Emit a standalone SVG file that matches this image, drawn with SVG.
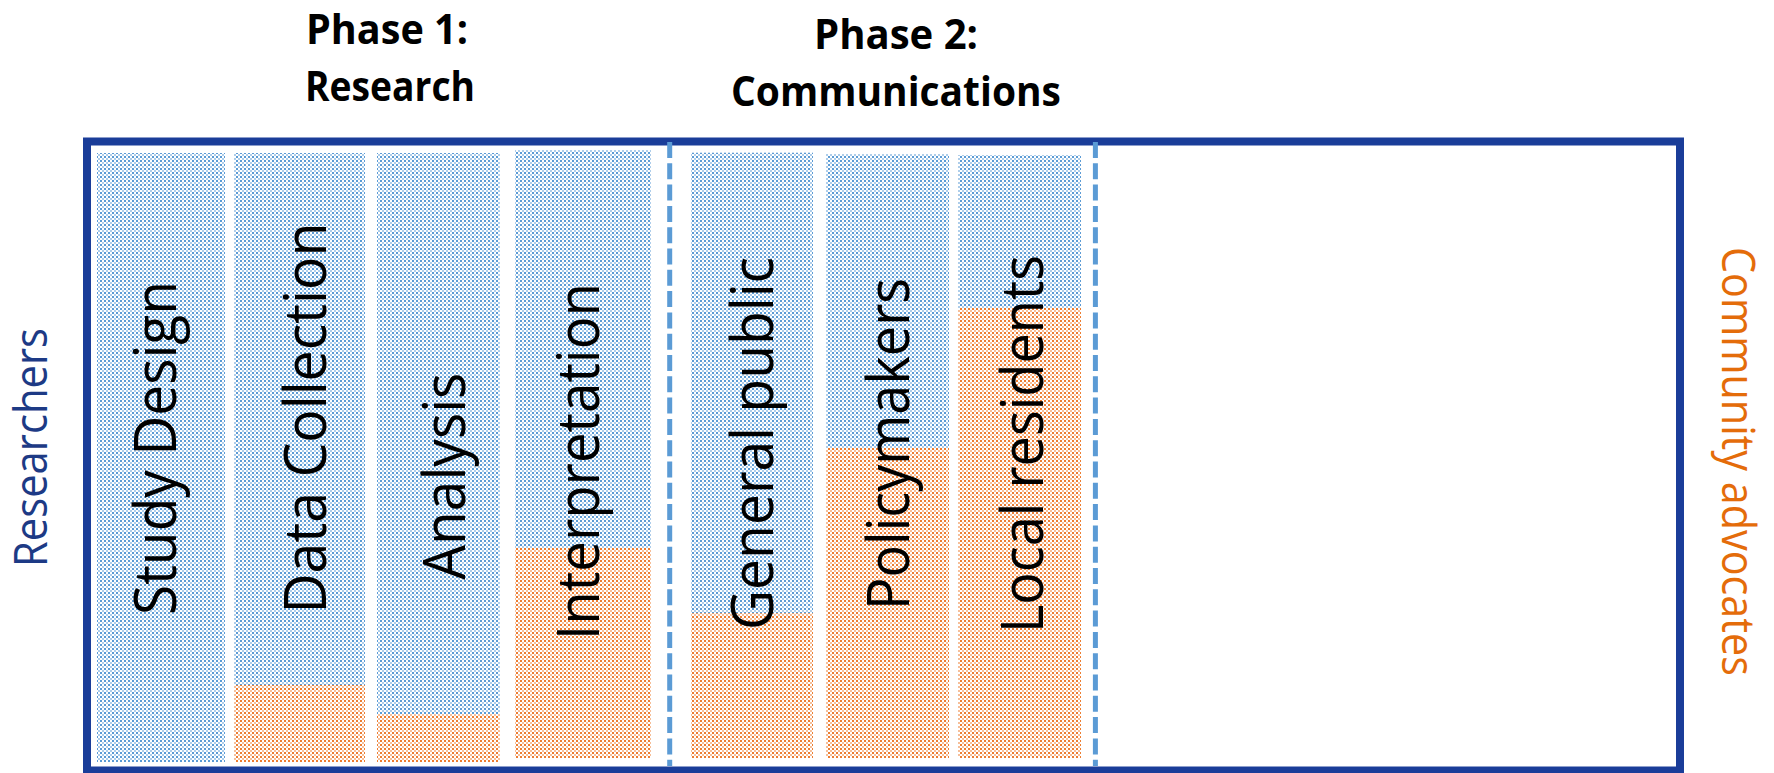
<svg xmlns="http://www.w3.org/2000/svg" width="1774" height="773" viewBox="0 0 1774 773">
<defs>
<pattern id="pBlue" width="4" height="4" patternUnits="userSpaceOnUse">
<rect width="4" height="4" fill="#ffffff"/>
<rect x="0" y="0" width="2" height="2" fill="#5B9BD5"/>
<rect x="2" y="2" width="2" height="2" fill="#5B9BD5" opacity="0.5"/>
</pattern>
<pattern id="pOrange" width="4" height="4" patternUnits="userSpaceOnUse">
<rect width="4" height="4" fill="#ffffff"/>
<rect x="0" y="0" width="2" height="2" fill="#ED7D31"/>
<rect x="2" y="2" width="2" height="2" fill="#ED7D31" opacity="0.5"/>
</pattern>
</defs>
<style>
.blue{fill:url(#pBlue);}
.orange{fill:url(#pOrange);}
.lbl{font-family:"Open Sans","Liberation Sans",sans-serif;font-size:58px;fill:#000000;}
.title{font-family:"Open Sans","Liberation Sans",sans-serif;font-size:41px;font-weight:bold;fill:#000000;text-anchor:middle;}
.side{font-family:"Open Sans","Liberation Sans",sans-serif;font-size:45px;}
.frame{fill:none;stroke:#1A3D99;stroke-width:8;}
.divider{stroke:#5B9BD5;stroke-width:5;stroke-dasharray:16 5.3;fill:none;}
</style>
<rect width="1774" height="773" fill="#ffffff"/>

<g id="titles">
<text class="title" x="387" y="44" textLength="162" lengthAdjust="spacingAndGlyphs">Phase 1:</text>
<text class="title" x="390" y="101" textLength="170" lengthAdjust="spacingAndGlyphs">Research</text>
<text class="title" x="896" y="49" textLength="164" lengthAdjust="spacingAndGlyphs">Phase 2:</text>
<text class="title" x="896" y="106" textLength="330" lengthAdjust="spacingAndGlyphs">Communications</text>
</g>

<g id="frame">
<rect class="frame" x="87" y="141.5" width="1593" height="629"/>
</g>

<g id="bar-study-design">
<rect class="blue" x="97" y="153" width="128" height="609"/>
<text class="lbl" transform="translate(176.4,615) rotate(-90)" textLength="334" lengthAdjust="spacingAndGlyphs">Study Design</text>
</g>
<g id="bar-data-collection">
<rect class="blue" x="234" y="153" width="131" height="532"/>
<rect class="orange" x="234" y="685" width="131" height="77"/>
<text class="lbl" transform="translate(325.6,613.6) rotate(-90)" textLength="391" lengthAdjust="spacingAndGlyphs">Data Collection</text>
</g>
<g id="bar-analysis">
<rect class="blue" x="377" y="153" width="123" height="561"/>
<rect class="orange" x="377" y="714" width="123" height="48"/>
<text class="lbl" transform="translate(464.6,579.7) rotate(-90)" textLength="207" lengthAdjust="spacingAndGlyphs">Analysis</text>
</g>
<g id="bar-interpretation">
<rect class="blue" x="515" y="150" width="136" height="398"/>
<rect class="orange" x="515" y="548" width="136" height="210"/>
<text class="lbl" transform="translate(598.7,640) rotate(-90)" textLength="357" lengthAdjust="spacingAndGlyphs">Interpretation</text>
</g>
<g id="bar-general-public">
<rect class="blue" x="691" y="152.7" width="122" height="460.6"/>
<rect class="orange" x="691" y="613.3" width="122" height="144.7"/>
<text class="lbl" transform="translate(772.5,630) rotate(-90)" textLength="373" lengthAdjust="spacingAndGlyphs">General public</text>
</g>
<g id="bar-policymakers">
<rect class="blue" x="826" y="154" width="123" height="294"/>
<rect class="orange" x="826" y="448" width="123" height="310"/>
<text class="lbl" transform="translate(908.7,610) rotate(-90)" textLength="332" lengthAdjust="spacingAndGlyphs">Policymakers</text>
</g>
<g id="bar-local-residents">
<rect class="blue" x="958" y="155" width="123" height="153"/>
<rect class="orange" x="958" y="308" width="123" height="450"/>
<text class="lbl" transform="translate(1043.4,633) rotate(-90)" textLength="378" lengthAdjust="spacingAndGlyphs">Local residents</text>
</g>

<g id="connectors">
<line class="divider" x1="669.7" y1="142" x2="669.7" y2="766"/>
<line class="divider" x1="1095.4" y1="142" x2="1095.4" y2="766"/>
</g>

<g id="axis-labels">
<text class="side" fill="#1D3A85" transform="translate(46.7,567) rotate(-90)" textLength="239" lengthAdjust="spacingAndGlyphs">Researchers</text>
<text class="side" fill="#E46C0A" transform="translate(1721.7,247) rotate(90)" textLength="429" lengthAdjust="spacingAndGlyphs">Community advocates</text>
</g>
</svg>
